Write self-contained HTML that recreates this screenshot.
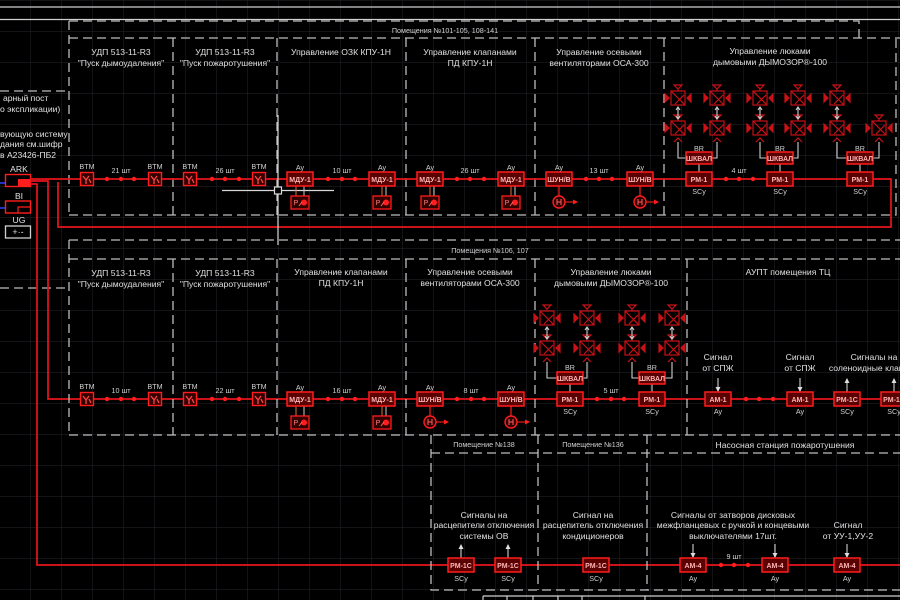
<!DOCTYPE html>
<html><head><meta charset="utf-8"><style>
html,body{margin:0;padding:0;background:#000;}
svg{display:block}
text{font-family:"Liberation Sans",sans-serif;}
.w{fill:#e0e0e0;font-size:8.6px;text-anchor:middle}
.wl{fill:#e0e0e0;font-size:8.6px}
.s{fill:#d0d0d0;font-size:7.2px;text-anchor:middle}
.d{stroke:#bdbdbd;stroke-width:1.3;stroke-dasharray:9 5;fill:none}
.r{stroke:#e8141c;stroke-width:1.7;fill:none}
.cb{fill:#5a0202;stroke:#ff1d1d;stroke-width:1.5}
.ct{fill:#ffb4b4;font-size:7px;font-weight:bold;text-anchor:middle}
.wh{stroke:#cfcfcf;stroke-width:1.1;fill:none}
.dot{fill:#ff1d1d}
</style></head><body>
<svg width="900" height="600" viewBox="0 0 900 600" xmlns="http://www.w3.org/2000/svg">
<defs>
<pattern id="g" x="-1" y="0" width="31" height="31" patternUnits="userSpaceOnUse">
<path d="M0 0V31M0 0H31" stroke="#1e1e26" stroke-width="1.2" fill="none"/>
</pattern>
<g id="v" stroke="#c81218" stroke-width="1.2" fill="none">
<rect x="-7" y="-7" width="14" height="14"/>
<path d="M-7 -7L7 7M-3 6L6 -3"/>
<path d="M-13 -4L-9 0L-13 4Z M13 -4L9 0L13 4Z" fill="#c81218"/>
<path d="M-4 -13H4L0 -9Z M0 -9V-7" />
</g>
<g id="up"><path d="M-4 14L0 10L4 14" stroke="#c81218" stroke-width="1.2" fill="none"/></g>
<g id="btm">
<rect x="-6.5" y="-6.5" width="13" height="13" fill="#300" stroke="#ff1d1d" stroke-width="1.4"/>
<path d="M-4 -3L-1 1V5M2 -3L-1 1M2 0L4 4" stroke="#ff4444" stroke-width="1.3" fill="none"/>
</g>
<g id="pb">
<rect x="-9" y="0" width="18" height="13" fill="#300" stroke="#ff1d1d" stroke-width="1.3"/>
<text x="-4" y="9" style="fill:#ff8080;font-size:7px;text-anchor:middle">P</text>
<circle cx="4" cy="6.5" r="3" fill="#ff1d1d"/>
<path d="M-1 10L2 6" stroke="#ff6060" stroke-width="1"/>
</g>
<g id="fan">
<circle cx="0" cy="0" r="6" fill="#300" stroke="#ff1d1d" stroke-width="1.4"/>
<path d="M-2 -3V3M2 -3V3M-2 0H2" stroke="#ff6060" stroke-width="1"/>
<path d="M6 0H15" stroke="#ff1d1d" stroke-width="1.1"/>
<path d="M14 -2.5L19 0L14 2.5Z" fill="#ff1d1d"/>
</g>
<g id="dn"><path d="M0 0V13" class="wh"/><path d="M-2.5 9L0 14L2.5 9Z" fill="#ddd"/></g>
<g id="upa"><path d="M0 1V14" class="wh"/><path d="M-2.5 5L0 0L2.5 5Z" fill="#ddd"/></g>
<g id="dbl"><path d="M0 -5V5" class="wh"/><path d="M-2 -3L0 -6L2 -3M-2 3L0 6L2 3" class="wh"/></g>
</defs>
<rect width="900" height="600" fill="#000"/>
<rect width="900" height="600" fill="url(#g)"/>

<path d="M0 7H900M0 19.5H900" stroke="#cfcfcf" stroke-width="1.2"/>

<path class="d" d="M69 21H859V38M69 21V215M69 38H900M69 215H896V38"/>
<path class="d" d="M173 38V215M277 38V215M406 38V215M535 38V215M664 38V215"/>
<text class="s" x="445" y="33">Помещения №101-105, 108-141</text>
<text class="w" x="121" y="55">УДП 513-11-R3</text><text class="w" x="121" y="66">"Пуск дымоудаления"</text>
<text class="w" x="225" y="55">УДП 513-11-R3</text><text class="w" x="225" y="66">"Пуск пожаротушения"</text>
<text class="w" x="341" y="55">Управление ОЗК КПУ-1Н</text>
<text class="w" x="470" y="55">Управление клапанами</text><text class="w" x="470" y="66">ПД КПУ-1Н</text>
<text class="w" x="599" y="55">Управление осевыми</text><text class="w" x="599" y="66">вентиляторами ОСА-300</text>
<text class="w" x="770" y="54">Управление люками</text><text class="w" x="770" y="65">дымовыми ДЫМОЗОР®-100</text>

<path class="d" d="M0 91H69M0 288H69"/>
<text class="wl" x="3" y="101">арный пост</text>
<text class="wl" x="0" y="112">о  экспликации)</text>
<text class="wl" x="0" y="137">вующую систему</text>
<text class="wl" x="0" y="147">дания см.шифр</text>
<text class="wl" x="0" y="158">в А23426-ПБ2</text>
<text class="w" x="19" y="172">ARK</text>
<rect x="5.5" y="174.5" width="25" height="12" fill="none" stroke="#ff1d1d" stroke-width="1.4"/>
<rect x="18" y="179" width="12" height="7" fill="#ff1d1d"/>
<path d="M0 183H5" stroke="#3040ff" stroke-width="1.5"/>
<text class="w" x="19" y="199">BI</text>
<rect x="5.5" y="201" width="25" height="12" fill="none" stroke="#ff1d1d" stroke-width="1.4"/>
<path d="M18 213V207H30" stroke="#ff1d1d" stroke-width="1.2" fill="none"/>
<path d="M0 208H5" stroke="#3040ff" stroke-width="1.5"/>
<text class="w" x="19" y="223">UG</text>
<rect x="5.5" y="226" width="25" height="12" fill="none" stroke="#d0d0d0" stroke-width="1.3"/>
<text x="18" y="235" style="fill:#ddd;font-size:9px;text-anchor:middle">+·-</text>

<path class="r" d="M30 179H891V227H58V182"/>
<path class="r" d="M30 181H48V399H900"/>
<path class="r" d="M30 184H37V565H900"/>

<path d="M278 115V245M222 190.5H334" stroke="#d8d8d8" stroke-width="1.2"/>
<rect x="274.5" y="187" width="7" height="7" fill="#000" stroke="#d8d8d8" stroke-width="1.2"/>

<g class="s">
<text x="87" y="169">BTM</text><text x="155" y="169">BTM</text><text x="190" y="169">BTM</text><text x="259" y="169">BTM</text>
<text x="121" y="173">21  шт</text><text x="225" y="173">26  шт</text>
<text x="342" y="173">10  шт</text><text x="470" y="173">26  шт</text><text x="599" y="173">13  шт</text><text x="739" y="173">4  шт</text>
<text x="300" y="170">Ау</text><text x="382" y="170">Ау</text><text x="430" y="170">Ау</text><text x="511" y="170">Ау</text>
<text x="559" y="170">Ау</text><text x="640" y="170">Ау</text>
<text x="699" y="151">BR</text><text x="780" y="151">BR</text><text x="860" y="151">BR</text>
<text x="699" y="194">SCу</text><text x="780" y="194">SCу</text><text x="860" y="194">SCу</text>
</g>
<use href="#btm" x="87" y="179"/><use href="#btm" x="155" y="179"/><use href="#btm" x="190" y="179"/><use href="#btm" x="259" y="179"/>
<g class="dot">
<circle cx="107" cy="179" r="2.2"/><circle cx="121" cy="179" r="2.2"/><circle cx="134" cy="179" r="2.2"/>
<circle cx="212" cy="179" r="2.2"/><circle cx="225" cy="179" r="2.2"/><circle cx="239" cy="179" r="2.2"/>
<circle cx="328" cy="179" r="2.2"/><circle cx="342" cy="179" r="2.2"/><circle cx="355" cy="179" r="2.2"/>
<circle cx="457" cy="179" r="2.2"/><circle cx="470" cy="179" r="2.2"/><circle cx="484" cy="179" r="2.2"/>
<circle cx="586" cy="179" r="2.2"/><circle cx="599" cy="179" r="2.2"/><circle cx="612" cy="179" r="2.2"/>
<circle cx="726" cy="179" r="2.2"/><circle cx="739" cy="179" r="2.2"/><circle cx="753" cy="179" r="2.2"/>
</g>
<g>
<path d="M296 186V197M382 186V197M430 186V197M511 186V197" stroke="#e07040" stroke-width="1"/>
<path d="M304 186V197M386 186V197M434 186V197M515 186V197" stroke="#ccc" stroke-width="1"/>
<use href="#pb" x="300" y="196"/><use href="#pb" x="382" y="196"/><use href="#pb" x="430" y="196"/><use href="#pb" x="511" y="196"/>
<rect class="cb" x="287" y="172" width="26" height="14"/><text class="ct" x="300" y="182">МДУ-1</text>
<rect class="cb" x="369" y="172" width="26" height="14"/><text class="ct" x="382" y="182">МДУ-1</text>
<rect class="cb" x="417" y="172" width="26" height="14"/><text class="ct" x="430" y="182">МДУ-1</text>
<rect class="cb" x="498" y="172" width="26" height="14"/><text class="ct" x="511" y="182">МДУ-1</text>
<path d="M559 186V196M640 186V196" stroke="#ff1d1d" stroke-width="1.2"/>
<use href="#fan" x="559" y="202"/><use href="#fan" x="640" y="202"/>
<rect class="cb" x="546" y="172" width="26" height="14"/><text class="ct" x="559" y="182">ШУН/В</text>
<rect class="cb" x="627" y="172" width="26" height="14"/><text class="ct" x="640" y="182">ШУН/В</text>
</g>
<g>
<use href="#v" x="678" y="98"/><use href="#v" x="717" y="98"/><use href="#v" x="760" y="98"/><use href="#v" x="798" y="98"/><use href="#v" x="837" y="98"/>
<use href="#v" x="678" y="128"/><use href="#v" x="717" y="128"/><use href="#v" x="760" y="128"/><use href="#v" x="798" y="128"/><use href="#v" x="837" y="128"/><use href="#v" x="879" y="128"/>
<use href="#dbl" x="678" y="113"/><use href="#dbl" x="717" y="113"/><use href="#dbl" x="760" y="113"/><use href="#dbl" x="798" y="113"/><use href="#dbl" x="837" y="113"/>
<use href="#up" x="678" y="128"/><use href="#up" x="717" y="128"/><use href="#up" x="760" y="128"/><use href="#up" x="798" y="128"/><use href="#up" x="837" y="128"/><use href="#up" x="879" y="128"/>
<path class="wh" d="M678 142V158H686M717 142V158H712M760 142V158H767M798 142V158H793M837 142V158H847M879 142V158H873M699 164V172M780 164V172M860 164V172"/>
<rect class="cb" x="686" y="152" width="26" height="12"/><text class="ct" x="699" y="161">ШКВАЛ</text>
<rect class="cb" x="767" y="152" width="26" height="12"/><text class="ct" x="780" y="161">ШКВАЛ</text>
<rect class="cb" x="847" y="152" width="26" height="12"/><text class="ct" x="860" y="161">ШКВАЛ</text>
<rect class="cb" x="686" y="172" width="26" height="14"/><text class="ct" x="699" y="182">РМ-1</text>
<rect class="cb" x="767" y="172" width="26" height="14"/><text class="ct" x="780" y="182">РМ-1</text>
<rect class="cb" x="847" y="172" width="26" height="14"/><text class="ct" x="860" y="182">РМ-1</text>
</g>

<path class="d" d="M69 240H900M69 259H900M69 240V435M69 435H900"/>
<path class="d" d="M173 259V435M277 259V435M406 259V435M535 259V435M687 259V435"/>
<text class="s" x="490" y="253">Помещения №106, 107</text>
<text class="w" x="121" y="276">УДП 513-11-R3</text><text class="w" x="121" y="287">"Пуск дымоудаления"</text>
<text class="w" x="225" y="276">УДП 513-11-R3</text><text class="w" x="225" y="287">"Пуск пожаротушения"</text>
<text class="w" x="341" y="275">Управление клапанами</text><text class="w" x="341" y="286">ПД КПУ-1Н</text>
<text class="w" x="470" y="275">Управление осевыми</text><text class="w" x="470" y="286">вентиляторами ОСА-300</text>
<text class="w" x="611" y="275">Управление люками</text><text class="w" x="611" y="286">дымовыми ДЫМОЗОР®-100</text>
<text class="w" x="788" y="275">АУПТ помещения  ТЦ</text>
<text class="w" x="718" y="360">Сигнал</text><text class="w" x="718" y="371">от СПЖ</text>
<text class="w" x="800" y="360">Сигнал</text><text class="w" x="800" y="371">от СПЖ</text>
<text class="w" x="874" y="360">Сигналы на</text><text class="w" x="874" y="371">соленоидные клапаны</text>
<g class="s">
<text x="87" y="389">BTM</text><text x="155" y="389">BTM</text><text x="190" y="389">BTM</text><text x="259" y="389">BTM</text>
<text x="121" y="393">10  шт</text><text x="225" y="393">22  шт</text><text x="342" y="393">16  шт</text><text x="471" y="393">8  шт</text><text x="611" y="393">5  шт</text>
<text x="300" y="390">Ау</text><text x="382" y="390">Ау</text><text x="430" y="390">Ау</text><text x="511" y="390">Ау</text>
<text x="570" y="370">BR</text><text x="652" y="370">BR</text>
<text x="570" y="414">SCу</text><text x="652" y="414">SCу</text>
<text x="718" y="414">Ау</text><text x="800" y="414">Ау</text><text x="847" y="414">SCу</text><text x="894" y="414">SCу</text>
</g>
<use href="#btm" x="87" y="399"/><use href="#btm" x="155" y="399"/><use href="#btm" x="190" y="399"/><use href="#btm" x="259" y="399"/>
<g class="dot">
<circle cx="107" cy="399" r="2.2"/><circle cx="121" cy="399" r="2.2"/><circle cx="134" cy="399" r="2.2"/>
<circle cx="212" cy="399" r="2.2"/><circle cx="225" cy="399" r="2.2"/><circle cx="239" cy="399" r="2.2"/>
<circle cx="328" cy="399" r="2.2"/><circle cx="342" cy="399" r="2.2"/><circle cx="355" cy="399" r="2.2"/>
<circle cx="457" cy="399" r="2.2"/><circle cx="471" cy="399" r="2.2"/><circle cx="484" cy="399" r="2.2"/>
<circle cx="597" cy="399" r="2.2"/><circle cx="611" cy="399" r="2.2"/><circle cx="624" cy="399" r="2.2"/>
<circle cx="746" cy="399" r="2.2"/><circle cx="759" cy="399" r="2.2"/><circle cx="773" cy="399" r="2.2"/>
</g>
<path d="M296 406V417M382 406V417" stroke="#e07040" stroke-width="1"/>
<path d="M304 406V417M386 406V417" stroke="#ccc" stroke-width="1"/>
<use href="#pb" x="300" y="416"/><use href="#pb" x="382" y="416"/>
<path d="M430 406V416M511 406V416" stroke="#ff1d1d" stroke-width="1.2"/>
<use href="#fan" x="430" y="422"/><use href="#fan" x="511" y="422"/>
<rect class="cb" x="287" y="392" width="26" height="14"/><text class="ct" x="300" y="402">МДУ-1</text>
<rect class="cb" x="369" y="392" width="26" height="14"/><text class="ct" x="382" y="402">МДУ-1</text>
<rect class="cb" x="417" y="392" width="26" height="14"/><text class="ct" x="430" y="402">ШУН/В</text>
<rect class="cb" x="498" y="392" width="26" height="14"/><text class="ct" x="511" y="402">ШУН/В</text>
<use href="#v" x="547" y="318"/><use href="#v" x="587" y="318"/><use href="#v" x="632" y="318"/><use href="#v" x="672" y="318"/>
<use href="#v" x="547" y="348"/><use href="#v" x="587" y="348"/><use href="#v" x="632" y="348"/><use href="#v" x="672" y="348"/>
<use href="#dbl" x="547" y="333"/><use href="#dbl" x="587" y="333"/><use href="#dbl" x="632" y="333"/><use href="#dbl" x="672" y="333"/>
<use href="#up" x="547" y="348"/><use href="#up" x="587" y="348"/><use href="#up" x="632" y="348"/><use href="#up" x="672" y="348"/>
<path class="wh" d="M547 362V378H557M587 362V378H583M632 362V378H639M672 362V378H665M570 384V392M652 384V392"/>
<rect class="cb" x="557" y="372" width="26" height="12"/><text class="ct" x="570" y="381">ШКВАЛ</text>
<rect class="cb" x="639" y="372" width="26" height="12"/><text class="ct" x="652" y="381">ШКВАЛ</text>
<rect class="cb" x="557" y="392" width="26" height="14"/><text class="ct" x="570" y="402">РМ-1</text>
<rect class="cb" x="639" y="392" width="26" height="14"/><text class="ct" x="652" y="402">РМ-1</text>
<use href="#dn" x="718" y="378"/><use href="#dn" x="800" y="378"/>
<use href="#upa" x="847" y="378"/><use href="#upa" x="894" y="378"/>
<rect class="cb" x="705" y="392" width="26" height="14"/><text class="ct" x="718" y="402">АМ-1</text>
<rect class="cb" x="787" y="392" width="26" height="14"/><text class="ct" x="800" y="402">АМ-1</text>
<rect class="cb" x="834" y="392" width="26" height="14"/><text class="ct" x="847" y="402">РМ-1С</text>
<rect class="cb" x="881" y="392" width="26" height="14"/><text class="ct" x="894" y="402">РМ-1С</text>

<path class="d" d="M431 435V590H900M538 435V590M647 435V590M431 453H900"/>
<text class="s" x="484" y="447">Помещение №138</text>
<text class="s" x="593" y="447">Помещение №136</text>
<text class="w" x="785" y="448">Насосная станция пожаротушения</text>
<text class="w" x="484" y="518">Сигналы на</text><text class="w" x="484" y="528">расцепители отключения</text><text class="w" x="484" y="539">системы ОВ</text>
<text class="w" x="593" y="518">Сигнал на</text><text class="w" x="593" y="528">расцепитель отключения</text><text class="w" x="593" y="539">кондиционеров</text>
<text class="w" x="733" y="518">Сигналы от затворов дисковых</text><text class="w" x="733" y="528">межфланцевых с ручкой и концевыми</text><text class="w" x="733" y="539">выключателями 17шт.</text>
<text class="w" x="848" y="528">Сигнал</text><text class="w" x="848" y="539">от УУ-1,УУ-2</text>
<use href="#upa" x="461" y="544"/><use href="#upa" x="508" y="544"/>
<use href="#dn" x="693" y="544"/><use href="#dn" x="775" y="544"/><use href="#dn" x="847" y="544"/>
<g class="dot"><circle cx="721" cy="565" r="2.2"/><circle cx="734" cy="565" r="2.2"/><circle cx="748" cy="565" r="2.2"/></g>
<g class="s">
<text x="734" y="559">9  шт</text>
<text x="461" y="581">SCу</text><text x="508" y="581">SCу</text><text x="596" y="581">SCу</text>
<text x="693" y="581">Ау</text><text x="775" y="581">Ау</text><text x="847" y="581">Ау</text>
</g>
<rect class="cb" x="448" y="558" width="26" height="14"/><text class="ct" x="461" y="568">РМ-1С</text>
<rect class="cb" x="495" y="558" width="26" height="14"/><text class="ct" x="508" y="568">РМ-1С</text>
<rect class="cb" x="583" y="558" width="26" height="14"/><text class="ct" x="596" y="568">РМ-1С</text>
<rect class="cb" x="680" y="558" width="26" height="14"/><text class="ct" x="693" y="568">АМ-4</text>
<rect class="cb" x="762" y="558" width="26" height="14"/><text class="ct" x="775" y="568">АМ-4</text>
<rect class="cb" x="834" y="558" width="26" height="14"/><text class="ct" x="847" y="568">АМ-4</text>

<path d="M483 596H900M483 596V600M507 596V600M533 596V600M558 596V600M582 596V600M645 596V600" stroke="#cfcfcf" stroke-width="1.2"/>
</svg>
</body></html>
